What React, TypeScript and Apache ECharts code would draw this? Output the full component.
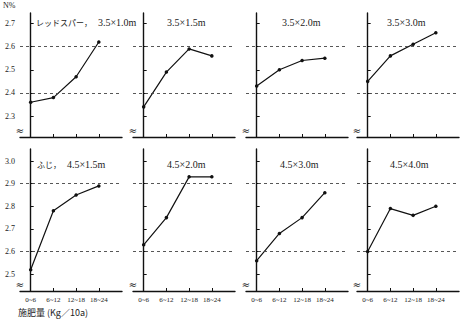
import React, { useEffect, useRef } from "react";
import * as echarts from "echarts";

const categories = ["0~6", "6~12", "12~18", "18~24"];
const topTitles = ["レッドスパー，", "", "", ""];
const topSizes = ["3.5×1.0m", "3.5×1.5m", "3.5×2.0m", "3.5×3.0m"];
const bottomTitles = ["ふじ，", "", "", ""];
const bottomSizes = ["4.5×1.5m", "4.5×2.0m", "4.5×3.0m", "4.5×4.0m"];

const topValues = [
  [2.36, 2.38, 2.47, 2.62],
  [2.34, 2.49, 2.59, 2.56],
  [2.43, 2.5, 2.54, 2.55],
  [2.45, 2.56, 2.61, 2.66],
];
const bottomValues = [
  [2.52, 2.78, 2.85, 2.89],
  [2.63, 2.75, 2.93, 2.93],
  [2.56, 2.68, 2.75, 2.86],
  [2.6, 2.79, 2.76, 2.8],
];

const topTicks = [2.3, 2.4, 2.5, 2.6, 2.7];
const bottomTicks = [2.5, 2.6, 2.7, 2.8, 2.9, 3.0];
const topRefLines = [2.4, 2.6];
const bottomRefLines = [2.6, 2.9];
const yLabel = "N%";
const xTitle = "施肥量 (Kg／10a)";

const SERIF = "Liberation Serif, DejaVu Serif, Noto Sans CJK JP";
const JP = "Noto Sans CJK JP";

export default function App() {
  const ref = useRef<HTMLDivElement>(null);
  useEffect(() => {
    document.body.style.margin = "0";
    const chart = echarts.init(ref.current!, null, { renderer: "svg" });
    const lefts = [20, 133, 246, 357];
    const titleOffsets = [
      [16, 34, 36, 30],
      [17, 34, 34, 33],
    ];
    const rows = [
      { top: 13, height: 124, min: 2.21, max: 2.745, ticks: topTicks, refs: topRefLines, values: topValues, titles: topTitles, sizes: topSizes, titleY: 17, showX: false },
      { top: 149, height: 142, min: 2.426, max: 3.053, ticks: bottomTicks, refs: bottomRefLines, values: bottomValues, titles: bottomTitles, sizes: bottomSizes, titleY: 159, showX: true },
    ];
    const grid: any[] = [];
    const xAxis: any[] = [];
    const yAxis: any[] = [];
    const series: any[] = [];
    const title: any[] = [];
    const graphic: any[] = [];
    let idx = 0;
    rows.forEach((r, ri) => {
      lefts.forEach((L, pi) => {
        grid.push({ left: L, top: r.top, width: 102, height: r.height, containLabel: false });
        xAxis.push({
          type: "value",
          gridIndex: idx,
          min: -0.47,
          max: 4.02,
          axisLine: { show: true, onZero: false, lineStyle: { color: "#111", width: 1.4 } },
          axisTick: { show: true, inside: true, length: 3, customValues: [0, 1, 2, 3], lineStyle: { color: "#111", width: 1 } },
          axisLabel: {
            show: r.showX,
            customValues: [0, 1, 2, 3],
            formatter: (v: number) => categories[Math.round(v)] ?? "",
            fontSize: 7,
            fontFamily: SERIF,
            color: "#222",
            margin: 5,
          },
          splitLine: { show: false },
        });
        yAxis.push({
          type: "value",
          gridIndex: idx,
          min: r.min,
          max: r.max,
          axisLine: { show: true, lineStyle: { color: "#111", width: 1.4 } },
          axisTick: { show: true, inside: true, length: 3, customValues: r.ticks, lineStyle: { color: "#111", width: 1 } },
          axisLabel: {
            show: pi === 0,
            customValues: r.ticks,
            formatter: (v: number) => v.toFixed(1),
            fontSize: 8,
            fontFamily: SERIF,
            color: "#222",
            margin: 5,
          },
          splitLine: { show: false },
        });
        series.push({
          type: "line",
          xAxisIndex: idx,
          yAxisIndex: idx,
          data: r.values[pi].map((v, i) => [i, v]),
          symbol: "circle",
          symbolSize: 3.5,
          itemStyle: { color: "#111" },
          lineStyle: { color: "#111", width: 1.2 },
          markLine: {
            silent: true,
            symbol: "none",
            label: { show: false },
            lineStyle: { color: "#444", width: 0.9, type: [3, 3] },
            data: r.refs.map((y) => ({ yAxis: y })),
          },
        });
        const t = r.titles[pi];
        title.push({
          text: t ? `{a|${t}}{b|${r.sizes[pi]}}` : `{b|${r.sizes[pi]}}`,
          left: L + titleOffsets[ri][pi],
          top: r.titleY,
          padding: 0,
          textStyle: {
            fontWeight: "normal",
            rich: {
              a: { fontSize: 8, fontFamily: JP, color: "#222", fontWeight: "normal", padding: [0, 6, 0, 0] },
              b: { fontSize: 10, fontFamily: SERIF, color: "#222", fontWeight: "normal" },
            },
          },
        });
        // axis break marks
        const yb = r.top + r.height - 7;
        graphic.push({ type: "rect", shape: { x: L - 3, y: yb - 2, width: 6, height: 4 }, style: { fill: "#fff" }, z: 100 });
        graphic.push({
          type: "text",
          x: L,
          y: yb,
          style: { text: "≈", fontSize: 10, fontFamily: "DejaVu Sans", fill: "#111", align: "center", verticalAlign: "middle" },
          z: 101,
        });
        idx++;
      });
    });
    graphic.push({ type: "text", left: 3, top: 1, style: { text: yLabel, fontSize: 8, fontFamily: SERIF, fill: "#222" } });
    graphic.push({ type: "text", left: 18, top: 308, style: { text: xTitle, fontSize: 9, fontFamily: JP, fill: "#222" } });

    chart.setOption({
      animation: false,
      backgroundColor: "#fff",
      title,
      grid,
      xAxis,
      yAxis,
      series,
      graphic,
    });
    return () => chart.dispose();
  }, []);
  return <div ref={ref} style={{ width: 464, height: 322 }} />;
}
